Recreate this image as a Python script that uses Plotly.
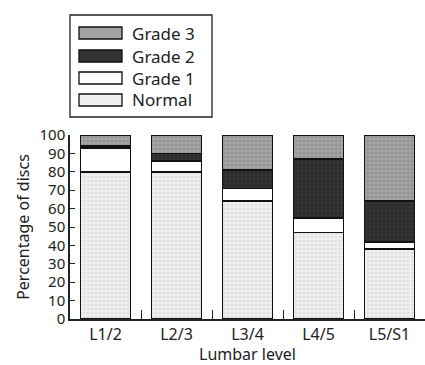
import plotly.graph_objects as go

# Lumbar levels and percentage of discs per degeneration grade
levels = ["L1/2", "L2/3", "L3/4", "L4/5", "L5/S1"]
normal = [80, 80, 64, 47, 38]
grade1 = [13, 6, 7, 8, 4]
grade2 = [1, 4, 10, 32, 22]
grade3 = [6, 10, 19, 13, 36]

series = [
    ("Normal", normal, "#efefef", "#c8c8c8"),
    ("Grade 1", grade1, "#ffffff", "#ffffff"),
    ("Grade 2", grade2, "#333333", "#222222"),
    ("Grade 3", grade3, "#a3a3a3", "#7a7a7a"),
]

W, H = 425, 365
L, R, T, B = 70, 0, 135, 46
FONT = "Noto Sans"
INK = "#222222"

fig = go.Figure()
for name, vals, bg, fg in series:
    fig.add_trace(go.Bar(
        x=levels, y=vals, name=name, showlegend=False,
        marker=dict(color=bg, line=dict(color="#111111", width=1.6),
                    pattern=dict(shape="." if bg != "#ffffff" else "",
                                 fgcolor=fg, bgcolor=bg, size=4, solidity=0.3)),
    ))

# Legend box drawn in pixel units converted to paper coordinates
pw, ph = W - L - R, H - T - B
def px(x):
    return (x - L) / pw
def py(y):
    return (H - B - y) / ph

shapes = [dict(type="rect", xref="paper", yref="paper",
               x0=px(70), x1=px(212), y0=py(117), y1=py(15),
               line=dict(color=INK, width=1.3), fillcolor="white")]
annotations = []
rows = [33, 56, 78, 100]
for (name, _, bg, fg), yc in zip(reversed(series), rows):
    shapes.append(dict(type="rect", xref="paper", yref="paper",
                       x0=px(79), x1=px(122), y0=py(yc + 6), y1=py(yc - 6),
                       line=dict(color="#111111", width=1.3), fillcolor=bg))
    annotations.append(dict(text=name, xref="paper", yref="paper",
                            x=px(130), y=py(yc), xanchor="left", yanchor="middle",
                            showarrow=False, font=dict(size=17, color=INK, family=FONT)))

fig.update_layout(
    width=W, height=H, barmode="stack", bargap=0.3,
    margin=dict(l=L, r=R, t=T, b=B),
    paper_bgcolor="white", plot_bgcolor="white",
    font=dict(family=FONT, size=16, color=INK),
    shapes=shapes, annotations=annotations,
    xaxis=dict(range=[-0.5, 4.5], showline=True, linecolor=INK, linewidth=1.5,
               ticks="inside", tickson="boundaries", ticklen=9, tickcolor=INK,
               tickfont=dict(size=16), showgrid=False,
               title=dict(text="Lumbar level", font=dict(size=16), standoff=4)),
    yaxis=dict(range=[0, 100], dtick=10, showgrid=False, zeroline=False,
               showline=True, linecolor=INK, linewidth=1.5,
               ticks="inside", ticklen=5, tickcolor=INK, tickwidth=1.2,
               tickfont=dict(size=15),
               title=dict(text="Percentage of discs", font=dict(size=16), standoff=6)),
)

fig.write_html("out.html")
